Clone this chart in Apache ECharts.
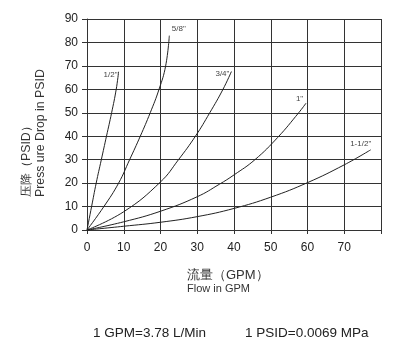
<!DOCTYPE html>
<html><head><meta charset="utf-8">
<script src="https://cdn.jsdelivr.net/npm/echarts@6/dist/echarts.min.js"></script>
<style>html,body{margin:0;padding:0;background:#fff}#c{width:412px;height:350px}</style>
</head><body><div id="c"></div>
<script>
// Flow (GPM) and pressure drop (PSID) per pipe size
const sizeNames = ['1/2"', '5/8"', '3/4"', '1"', '1-1/2"'];
const flow_12  = [0, 1.25, 2.5, 3.9, 5.3, 6.7, 7.95, 8.6];
const psid_12  = [0, 10, 20, 30, 40, 50, 60, 67.5];
const flow_58  = [0, 4.6, 8.6, 11.6, 14.5, 17.2, 19.6, 21.4, 22.4];
const psid_58  = [0, 10, 20, 30, 40, 50, 60, 70, 82.9];
const flow_34  = [0, 10, 20, 24.9, 29.5, 33.4, 37.0, 39.3];
const psid_34  = [0, 7.8, 20.5, 30, 40, 50, 60, 67.6];
const flow_1   = [0, 10, 20, 30, 36, 40, 45.7, 51.9, 57.6, 59.6];
const psid_1   = [0, 3.5, 8, 14.2, 19.5, 23.5, 30, 39.5, 50, 54.1];
const flow_112 = [0, 10, 20, 30, 40, 50, 60, 70, 77.2];
const psid_112 = [0, 1.6, 3.3, 5.7, 9.2, 14, 20.2, 27.8, 34.2];
const xTicks = [0, 10, 20, 30, 40, 50, 60, 70];
const yTicks = [0, 10, 20, 30, 40, 50, 60, 70, 80, 90];

const font = "'Liberation Sans', Arial, sans-serif";
const curves = [
  [flow_12, psid_12, [-8, 3]],
  [flow_58, psid_58, [9.5, -7]],
  [flow_34, psid_34, [-9, 2]],
  [flow_1, psid_1, [-6.5, -4]],
  [flow_112, psid_112, [-10, -6.5]]
];
const series = curves.map((c, i) => {
  const data = c[0].map((x, j) => [x, c[1][j]]);
  const last = data[data.length - 1];
  return {
    type: 'line', data: data, smooth: 0.45, symbol: 'none',
    lineStyle: {color: '#222', width: 1}, silent: true, animation: false,
    markPoint: {
      symbol: 'circle', symbolSize: 0, silent: true, animation: false,
      data: [{coord: last, label: {
        show: true, formatter: sizeNames[i], position: c[2], align: 'center', verticalAlign: 'middle',
        fontSize: 8, color: '#444', fontFamily: font
      }}]
    }
  };
});

const chart = echarts.init(document.getElementById('c'), null, {renderer: 'canvas'});
chart.setOption({
  animation: false,
  grid: {left: 87, right: 31, top: 19, bottom: 120, containLabel: false},
  xAxis: {
    type: 'value', min: 0, max: 80, interval: 10,
    axisLine: {show: true, lineStyle: {color: '#333', width: 1}},
    axisTick: {show: true, length: 4, lineStyle: {color: '#333'}},
    splitLine: {show: true, lineStyle: {color: '#333', width: 1}},
    axisLabel: {color: '#222', fontSize: 12, fontFamily: font, margin: 12,
      formatter: v => xTicks.indexOf(v) >= 0 ? String(v) : ''}
  },
  yAxis: {
    type: 'value', min: 0, max: 90, interval: 10,
    axisLine: {show: true, lineStyle: {color: '#333', width: 1}},
    axisTick: {show: true, length: 5, lineStyle: {color: '#333'}},
    splitLine: {show: true, lineStyle: {color: '#333', width: 1}},
    axisLabel: {color: '#222', fontSize: 12, fontFamily: font, margin: 9,
      formatter: v => yTicks.indexOf(v) >= 0 ? String(v) : ''}
  },
  series: series,
  graphic: [
    {type: 'text', x: 20, y: 197, rotation: Math.PI / 2,
      style: {text: '压降（PSID）\nPress ure Drop in PSID', fill: '#333', font: '12.3px ' + font,
        textAlign: 'left', textVerticalAlign: 'top', lineHeight: 14}},
    {type: 'text', x: 187, y: 269,
      style: {text: '流量（GPM）', fill: '#333', font: '13px ' + font, textAlign: 'left', textVerticalAlign: 'top'}},
    {type: 'text', x: 187, y: 283,
      style: {text: 'Flow in GPM', fill: '#333', font: '11px ' + font, textAlign: 'left', textVerticalAlign: 'top'}},
    {type: 'text', x: 93, y: 326,
      style: {text: '1 GPM=3.78 L/Min', fill: '#222', font: '13.5px ' + font, textAlign: 'left', textVerticalAlign: 'top'}},
    {type: 'text', x: 245, y: 326,
      style: {text: '1 PSID=0.0069 MPa', fill: '#222', font: '13.5px ' + font, textAlign: 'left', textVerticalAlign: 'top'}}
  ]
});
</script></body></html>
